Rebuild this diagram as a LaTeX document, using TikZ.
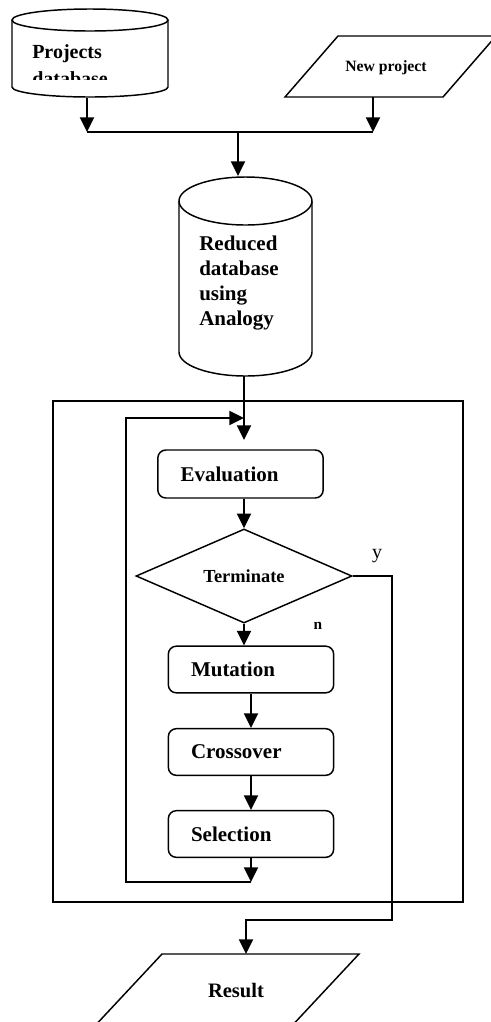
\documentclass[tikz,border=0pt]{standalone}
\usepackage{fontspec}
\setmainfont{Liberation Serif}
\usetikzlibrary{arrows.meta,shapes.geometric}

\tikzset{
  flowarrow/.style={line width=1.5pt,-{Triangle[length=11pt,width=10.5pt]}},
  flowline/.style={line width=1.5pt},
  outline/.style={line width=1.1pt},
  procbox/.style={draw,line width=1.1pt,rounded corners=6pt,minimum width=124pt,minimum height=35pt,inner xsep=17pt,text width=90pt,align=left,font=\bfseries\fontsize{15.75}{18}\selectfont},
  bigtext/.style={font=\bfseries\fontsize{15.75}{18.75}\selectfont,align=left,inner sep=0pt},
}

\begin{document}
\begin{tikzpicture}[x=0.75pt,y=0.75pt,yscale=-1,xscale=1]
\useasboundingbox (0,0) rectangle (490,1022);
% input stores
\draw[outline] (90,20) ellipse (78 and 11);
\draw[outline] (12,20) -- (12,87) arc[start angle=180,end angle=0,x radius=78,y radius=10] -- (168,20);
\begin{scope}
\clip (12,20) rectangle (168,79.5);
\node[bigtext,font=\bfseries\fontsize{15}{20.25}\selectfont,anchor=base west] (pdb) at (32,85) {Projects\\database};
\end{scope}
\draw[outline] (285,97) -- (338,36) -- (496,36) -- (443,97) -- cycle;
\node[font=\bfseries\fontsize{11.8}{14}\selectfont] (np) at (386,68) {New project};
\coordinate (pdbout) at (87,98);
\coordinate (npout) at (373,97);
\coordinate (jl) at (87,132);
\coordinate (jr) at (373,132);
\coordinate (jm) at (238,132);
\coordinate (rdbin) at (238,176);
\draw[flowarrow] (pdbout) -- (jl);
\draw[flowarrow] (npout) -- (jr);
\draw[flowline] (jl) -- (jr);
\draw[flowarrow] (jm) -- (rdbin);
% reduced store
\draw[outline] (245.5,201) ellipse (66.5 and 24);
\draw[outline] (179,201) -- (179,352) arc[start angle=180,end angle=0,x radius=66.5,y radius=24] -- (312,201);
\node[bigtext,anchor=base west] (rdb) at (199,325) {Reduced\\database\\using\\Analogy};
\coordinate (rdbout) at (244,376);
% GA loop
\draw[outline] (53,401) rectangle (463,902);
\coordinate (evalin) at (244,440);
\coordinate (loopin) at (244,418);
\draw[flowarrow] (rdbout) -- (evalin);
\node[procbox,minimum height=36pt] (eval) at (240.5,474) {Evaluation};
\node[draw,diamond,line width=1.1pt,minimum width=162pt,minimum height=67.5pt,inner sep=0pt,font=\bfseries\fontsize{13.8}{16}\selectfont] (term) at (244,576) {Terminate};
\node[procbox] (mut) at (251,669.5) {Mutation};
\node[procbox] (cross) at (251,752) {Crossover};
\node[procbox] (sel) at (251,834) {Selection};
\draw[flowarrow] (eval.south -| term.north) -- (term.north);
\draw[flowarrow] (term.south) -- (term.south |- mut.north);
\draw[flowarrow] (mut.south) -- (cross.north);
\draw[flowarrow] (cross.south) -- (sel.north);
\coordinate (loopbot) at (251,882);
\coordinate (loopleft) at (126,882);
\draw[flowarrow] (sel.south) -- (loopbot);
\draw[flowarrow] (loopbot) -- (loopleft) |- (loopin);
\node[font=\fontsize{15}{18}\selectfont] (ylab) at (377,556) {y};
\node[font=\bfseries\fontsize{11.5}{14}\selectfont] (nlab) at (318,626) {n};
% exit
\coordinate (yesright) at (392,920);
\coordinate (resin) at (246,954);
\draw[flowarrow] (term.east) -| (yesright) -| (resin);
\draw[outline] (162,954) -- (359,954) -- (288,1030) -- (91,1030) -- cycle;
\node[font=\bfseries\fontsize{15.4}{18}\selectfont] (res) at (236,990) {Result};
\end{tikzpicture}
\end{document}
